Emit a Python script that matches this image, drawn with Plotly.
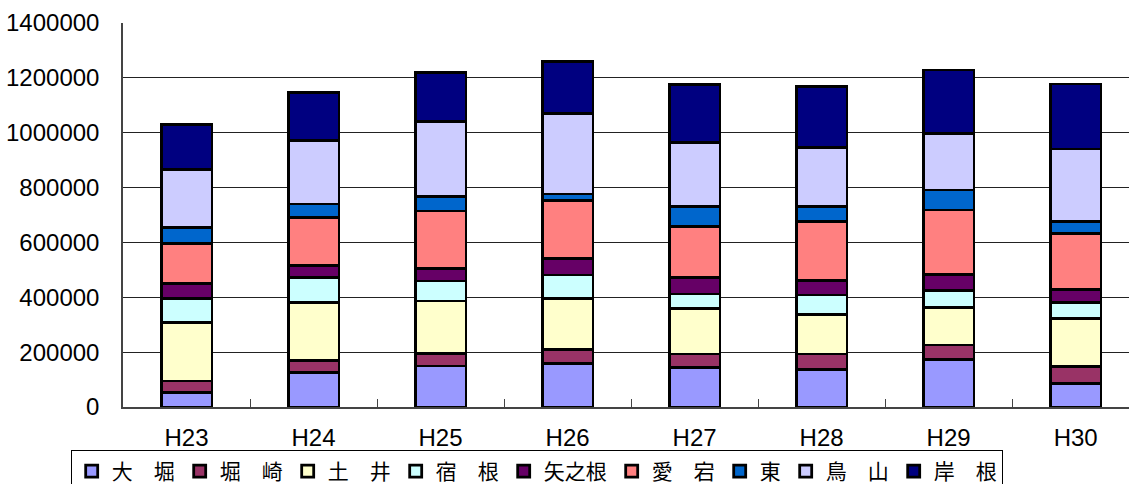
import plotly.graph_objects as go

years = ["H23", "H24", "H25", "H26", "H27", "H28", "H29", "H30"]

oohori   = [53600, 126500, 149500, 159300, 144700, 137400, 173900, 86400]
horisaki = [41200, 42300, 46300, 51100, 48500, 55800, 52100, 60500]
doi      = [212500, 212900, 190600, 185900, 166600, 144700, 136000, 176500]
shukune  = [89000, 91100, 72900, 84900, 52200, 70400, 62000, 58300]
yanone   = [54700, 42300, 46300, 60900, 60800, 52100, 59800, 47400]
atago    = [145800, 175000, 208900, 210000, 184500, 215100, 234400, 204100]
higashi  = [58300, 49900, 52200, 24400, 72900, 54700, 72900, 42300]
toriyama = [211500, 230800, 273400, 294200, 233300, 216600, 206700, 265100]
kishine  = [164000, 177200, 178600, 188100, 212900, 220900, 230800, 236900]

series = [
    ("大　堀", oohori, "#9999FF"),
    ("堀　崎", horisaki, "#993366"),
    ("土　井", doi, "#FFFFCC"),
    ("宿　根", shukune, "#CCFFFF"),
    ("矢之根", yanone, "#660066"),
    ("愛　宕", atago, "#FF8080"),
    ("東", higashi, "#0066CC"),
    ("鳥　山", toriyama, "#CCCCFF"),
    ("岸　根", kishine, "#000080"),
]

y_ticks = [0, 200000, 400000, 600000, 800000, 1000000, 1200000, 1400000]

fig = go.Figure()
for name, vals, color in series:
    fig.add_trace(go.Bar(
        x=years, y=vals, name=name,
        marker=dict(color=color, line=dict(color="black", width=2.8)),
        width=0.4,
    ))

fig.update_layout(
    barmode="stack",
    width=1129, height=484,
    margin=dict(l=123, r=0, t=23, b=77, autoexpand=False),
    plot_bgcolor="white", paper_bgcolor="white",
    font=dict(family="Liberation Sans", size=24, color="black"),
    legend=dict(
        orientation="h",
        x=-0.052, xanchor="left",
        y=-0.112, yanchor="top",
        bordercolor="black", borderwidth=1,
        font=dict(family="Noto Sans CJK JP", size=21, color="black"),
        itemwidth=30,
        traceorder="normal",
    ),
    showlegend=True,
)
fig.update_xaxes(
    type="category",
    range=[-0.5, 7.42],
    automargin=False,
    showline=True, linecolor="#444", linewidth=1.5,
    ticks="inside", tickson="boundaries", ticklen=8, tickcolor="#444",
    ticklabelstandoff=8,
    showgrid=False,
)
fig.update_yaxes(
    range=[0, 1400000],
    automargin=False,
    tickvals=y_ticks, ticktext=[str(v) for v in y_ticks],
    showline=True, linecolor="#444", linewidth=1.5,
    showgrid=True, gridcolor="#222", gridwidth=1,
    ticks="", ticklabelstandoff=17,
    zeroline=False,
)

fig.write_html(
    "out.html",
    config={"displayModeBar": False},
    post_script="document.body.style.margin='0';document.body.style.overflow='hidden';",
)
